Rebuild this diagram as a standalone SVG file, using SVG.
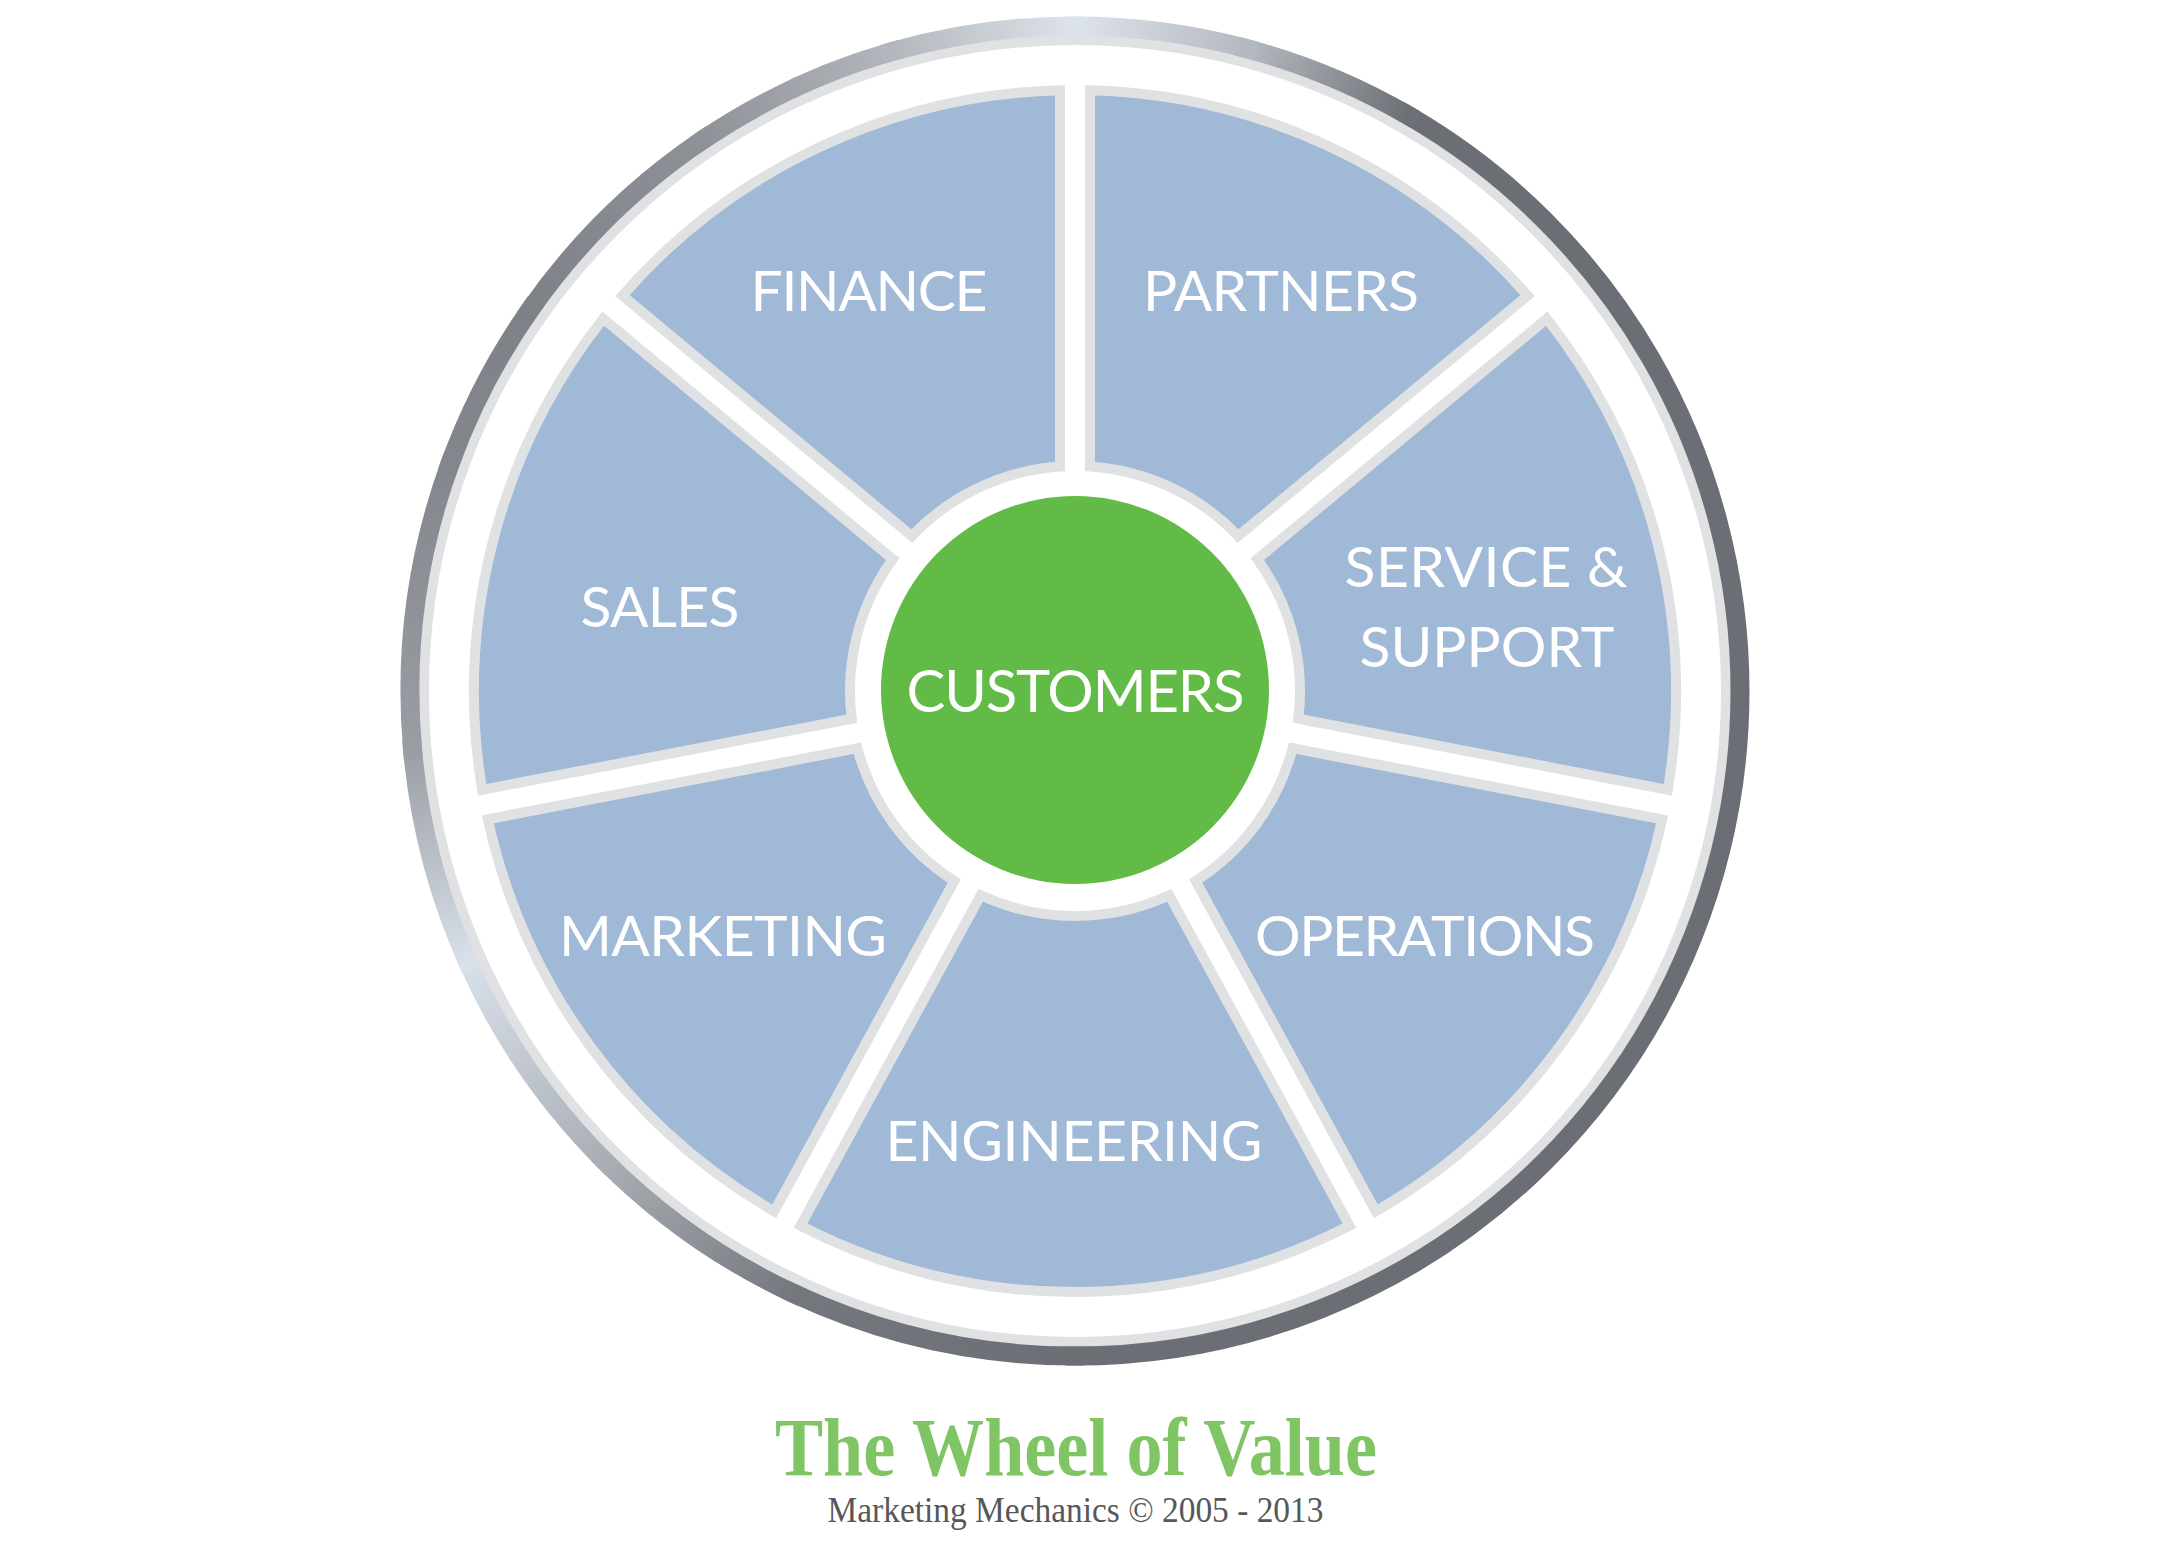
<svg xmlns="http://www.w3.org/2000/svg" width="2167" height="1550" viewBox="0 0 2167 1550">
<style>
.seg{fill:#a0b9d7;stroke:#e0e1e3;stroke-width:10;stroke-linejoin:miter}
.lbl{font-family:Lato,"Open Sans","Liberation Sans",sans-serif;font-size:57px;fill:#ffffff;text-anchor:middle}
.rim{fill:none;stroke-width:19;stroke-linecap:square}
</style>
<defs>
<linearGradient id="gA" gradientUnits="userSpaceOnUse" x1="1247.1" y1="48.7" x2="1407.5" y2="115.1"><stop offset="0" stop-color="#b4b9c0"/><stop offset="1" stop-color="#6d7076"/></linearGradient>
<linearGradient id="gC" gradientUnits="userSpaceOnUse" x1="1075" y1="1356" x2="794" y2="1293.7"><stop offset="0" stop-color="#6b6e74"/><stop offset="1" stop-color="#74787e"/></linearGradient>
<linearGradient id="gD" gradientUnits="userSpaceOnUse" x1="794" y1="1293.7" x2="604.8" y2="1161.2"><stop offset="0" stop-color="#74787e"/><stop offset="1" stop-color="#a9aeb5"/></linearGradient>
<linearGradient id="gE" gradientUnits="userSpaceOnUse" x1="604.8" y1="1161.2" x2="467.5" y2="961.5"><stop offset="0" stop-color="#a9aeb5"/><stop offset="1" stop-color="#d8e0ea"/></linearGradient>
<linearGradient id="gF" gradientUnits="userSpaceOnUse" x1="467.5" y1="961.5" x2="412.5" y2="749"><stop offset="0" stop-color="#d8e0ea"/><stop offset="1" stop-color="#9a9ea4"/></linearGradient>
<linearGradient id="gG" gradientUnits="userSpaceOnUse" x1="412.5" y1="749" x2="450.1" y2="463.6"><stop offset="0" stop-color="#9a9ea4"/><stop offset="1" stop-color="#83878d"/></linearGradient>
<linearGradient id="gH" gradientUnits="userSpaceOnUse" x1="450.1" y1="463.6" x2="530.2" y2="309.6"><stop offset="0" stop-color="#83878d"/><stop offset="1" stop-color="#7e8288"/></linearGradient>
<linearGradient id="gI" gradientUnits="userSpaceOnUse" x1="530.2" y1="309.6" x2="703.1" y2="139.7"><stop offset="0" stop-color="#7e8288"/><stop offset="1" stop-color="#8e9298"/></linearGradient>
<linearGradient id="gJ" gradientUnits="userSpaceOnUse" x1="703.1" y1="139.7" x2="891.7" y2="51.7"><stop offset="0" stop-color="#8e9298"/><stop offset="1" stop-color="#b3b7bd"/></linearGradient>
<linearGradient id="gK" gradientUnits="userSpaceOnUse" x1="891.7" y1="51.7" x2="1075" y2="26"><stop offset="0" stop-color="#b3b7bd"/><stop offset="1" stop-color="#dde3ea"/></linearGradient>
<linearGradient id="gL" gradientUnits="userSpaceOnUse" x1="1075" y1="26" x2="1247.1" y2="48.7"><stop offset="0" stop-color="#dde3ea"/><stop offset="1" stop-color="#b4b9c0"/></linearGradient>
</defs>
<rect width="2167" height="1550" fill="#ffffff"/>
<g id="rim">
<circle cx="1075" cy="691" r="651" fill="none" stroke="#e0e1e3" stroke-width="10"/>
<path class="rim" stroke="#6b6e74" d="M1407.5,115.1 A665,665 0 0 1 1740,691 A665,665 0 0 1 1075,1356"/>
<path class="rim" stroke="url(#gA)" d="M1247.1,48.7 A665,665 0 0 1 1407.5,115.1"/>
<path class="rim" stroke="url(#gC)" d="M1075,1356 A665,665 0 0 1 794,1293.7"/>
<path class="rim" stroke="url(#gD)" d="M794,1293.7 A665,665 0 0 1 604.8,1161.2"/>
<path class="rim" stroke="url(#gE)" d="M604.8,1161.2 A665,665 0 0 1 467.5,961.5"/>
<path class="rim" stroke="url(#gF)" d="M467.5,961.5 A665,665 0 0 1 412.5,749"/>
<path class="rim" stroke="url(#gG)" d="M412.5,749 A665,665 0 0 1 450.1,463.6"/>
<path class="rim" stroke="url(#gH)" d="M450.1,463.6 A665,665 0 0 1 530.2,309.6"/>
<path class="rim" stroke="url(#gI)" d="M530.2,309.6 A665,665 0 0 1 703.1,139.7"/>
<path class="rim" stroke="url(#gJ)" d="M703.1,139.7 A665,665 0 0 1 891.7,51.7"/>
<path class="rim" stroke="url(#gK)" d="M891.7,51.7 A665,665 0 0 1 1075,26"/>
<path class="rim" stroke="url(#gL)" d="M1075,26 A665,665 0 0 1 1247.1,48.7"/>
</g>
<g id="partners">
<path class="seg" d="M1090,466.5 L1090,90.19 A601,601 0 0 1 1527.62,295.66 L1238.13,536.05 A225,225 0 0 0 1090,466.5 Z"/>
<text class="lbl" x="1281" y="311" textLength="276">PARTNERS</text>
</g>
<g id="service-support">
<path class="seg" d="M1257.29,559.13 L1546.78,318.74 A601,601 0 0 1 1667.84,789.88 L1298.3,718.72 A225,225 0 0 0 1257.29,559.13 Z"/>
<text class="lbl" x="1486" y="587" textLength="283">SERVICE &amp;</text>
<text class="lbl" x="1487" y="667" textLength="255">SUPPORT</text>
</g>
<g id="operations">
<path class="seg" d="M1292.62,748.18 L1662.16,819.34 A601,601 0 0 1 1375.78,1211.33 L1195.64,880.93 A225,225 0 0 0 1292.62,748.18 Z"/>
<text class="lbl" x="1425" y="956" textLength="340">OPERATIONS</text>
</g>
<g id="engineering">
<path class="seg" d="M1169.3,895.29 L1349.44,1225.69 A601,601 0 0 1 800.56,1225.69 L980.7,895.29 A225,225 0 0 0 1169.3,895.29 Z"/>
<text class="lbl" x="1074" y="1161" textLength="377">ENGINEERING</text>
</g>
<g id="marketing">
<path class="seg" d="M954.36,880.93 L774.22,1211.33 A601,601 0 0 1 487.84,819.34 L857.38,748.18 A225,225 0 0 0 954.36,880.93 Z"/>
<text class="lbl" x="723" y="956" textLength="328">MARKETING</text>
</g>
<g id="sales">
<path class="seg" d="M851.7,718.72 L482.16,789.88 A601,601 0 0 1 603.22,318.74 L892.71,559.13 A225,225 0 0 0 851.7,718.72 Z"/>
<text class="lbl" x="660" y="627" textLength="159">SALES</text>
</g>
<g id="finance">
<path class="seg" d="M911.87,536.05 L622.38,295.66 A601,601 0 0 1 1060,90.19 L1060,466.5 A225,225 0 0 0 911.87,536.05 Z"/>
<text class="lbl" x="869" y="311" textLength="237">FINANCE</text>
</g>
<g id="customers">
<circle cx="1075" cy="690" r="194" fill="#62bb46"/>
<text class="lbl" x="1075.5" y="712" style="font-size:58px" textLength="338">CUSTOMERS</text>
</g>
<g id="title">
<text x="1076" y="1475" font-family="'Liberation Serif',serif" font-weight="bold" font-size="82" fill="#7fc564" text-anchor="middle" textLength="602" lengthAdjust="spacingAndGlyphs">The Wheel of Value</text>
<text x="1075.5" y="1522" font-family="'Liberation Serif',serif" font-size="35" fill="#555759" text-anchor="middle" textLength="496" lengthAdjust="spacingAndGlyphs">Marketing Mechanics © 2005 - 2013</text>
</g>
</svg>
